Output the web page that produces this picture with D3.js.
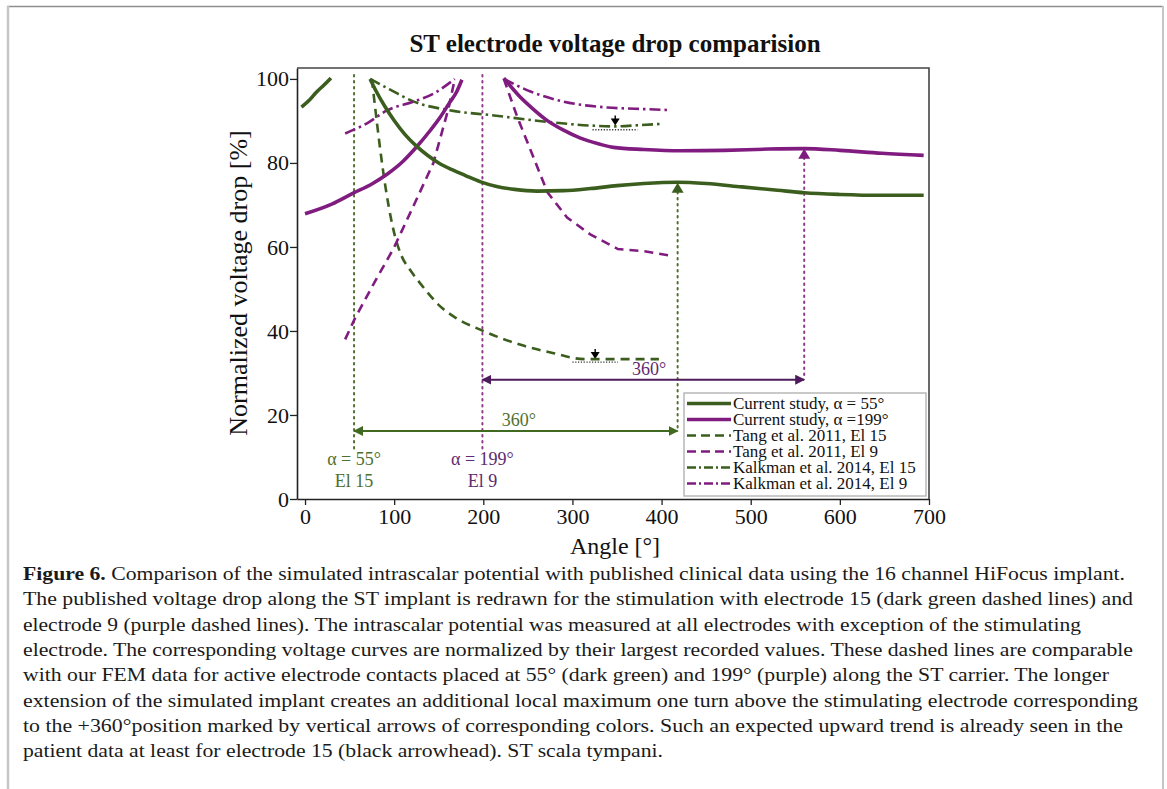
<!DOCTYPE html>
<html>
<head>
<meta charset="utf-8">
<script src="https://cdn.jsdelivr.net/npm/d3@7"></script>
<style>
  body { margin: 0; background: #fff; }
  svg { display: block; font-family: "Liberation Serif", "Times New Roman", serif; }
</style>
</head>
<body>
<div id="chart"></div>
<script>
// ---- data: [angle in degrees, normalized drop in %] ----
var current55a = [[-4, 93.3], [5, 95.0], [13, 96.9], [21, 98.5], [29, 100.2]];
var current55b = [[73, 100], [80, 97.0], [90, 93.3], [100, 90.1], [112, 86.8], [125, 84.0], [137, 81.9],
  [150, 80.0], [165, 78.4], [180, 77.0], [197, 75.5], [215, 74.4], [235, 73.7], [260, 73.3], [290, 73.4],
  [320, 73.9], [350, 74.6], [380, 75.1], [418, 75.4], [450, 75.1], [490, 74.3], [530, 73.5], [560, 72.9],
  [600, 72.5], [647, 72.3], [694, 72.3]];
var current199a = [[0, 67.9], [30, 70.2], [54, 72.8], [75, 75.0], [92, 77.3], [110, 80.4], [125.5, 83.9],
  [140, 87.6], [152, 91], [162, 94.3], [170, 96.9], [176, 99.8]];
var current199b = [[223, 100.2], [240, 96], [255, 93], [271, 90.2], [290, 87.8], [309, 85.9], [330, 84.5],
  [346, 83.7], [380, 83.2], [421, 82.9], [470, 83.0], [520, 83.3], [560, 83.4], [600, 83.0], [647, 82.3], [694, 81.8]];
var tang15 = [[75, 100], [81, 89], [87, 79], [94, 69.5], [101, 62.5], [108, 58], [118, 54.5], [129, 51.4],
  [152, 45.8], [167, 43.4], [200, 40], [242, 36.7], [279, 34.7], [313, 33.3], [350, 33.3], [397, 33.3]];
var tang9a = [[45, 38], [56, 43], [79, 52], [99, 59.5], [120, 69], [144, 80], [161, 93], [168, 100]];
var tang9b = [[223, 100], [238, 91], [255, 82], [272, 73], [294, 67], [320, 63], [351, 59.5], [380, 59], [408, 58]];
var kalk15 = [[73, 100], [95, 97.5], [122, 94.6], [160, 92.6], [212, 91.3], [271, 89.8], [320, 88.9],
  [348, 88.7], [375, 89.0], [401, 89.3]];
var kalk9a = [[45, 87], [70, 89.5], [92, 92.5], [122, 94.6], [144, 96.5], [168, 100]];
var kalk9b = [[223, 100], [253, 97], [290, 94.6], [339, 93.2], [370, 92.9], [408, 92.6]];

var xTicks = [0, 100, 200, 300, 400, 500, 600, 700];
var yTicks = [0, 20, 40, 60, 80, 100];

var legendLabels = ["Current study, \u03b1 = 55\u00b0", "Current study, \u03b1 =199\u00b0", "Tang et al. 2011, El 15",
  "Tang et al. 2011, El 9", "Kalkman et al. 2014, El 15", "Kalkman et al. 2014, El 9"];

var captionLines = [
  " Comparison of the simulated intrascalar potential with published clinical data using the 16 channel HiFocus implant.",
  "The published voltage drop along the ST implant is redrawn for the stimulation with electrode 15 (dark green dashed lines) and",
  "electrode 9 (purple dashed lines). The intrascalar potential was measured at all electrodes with exception of the stimulating",
  "electrode. The corresponding voltage curves are normalized by their largest recorded values. These dashed lines are comparable",
  "with our FEM data for active electrode contacts placed at 55\u00b0 (dark green) and 199\u00b0 (purple) along the ST carrier. The longer",
  "extension of the simulated implant creates an additional local maximum one turn above the stimulating electrode corresponding",
  "to the +360\u00b0position marked by vertical arrows of corresponding colors. Such an expected upward trend is already seen in the",
  "patient data at least for electrode 15 (black arrowhead). ST scala tympani."
];
var captionWidths = [1102, 1110, 1058, 1110, 1086, 1115, 1100, 640];

var green = "#3b5e1e", purple = "#801c80";
var greenText = "#4f6f2d", purpleText = "#5e2a70";

// ---- layout ----
var margin = {top: 68, left: 297};
var width = 632, height = 431;

var svg = d3.select("#chart").append("svg")
  .attr("width", 1167).attr("height", 789);

// page frame
svg.append("line").attr("x1", 7).attr("x2", 1163).attr("y1", 6.5).attr("y2", 6.5)
  .attr("stroke", "#8e8e8e").attr("stroke-width", 1.5);
svg.append("line").attr("x1", 8).attr("x2", 8).attr("y1", 6).attr("y2", 789)
  .attr("stroke", "#c6c6c6").attr("stroke-width", 2.5);
svg.append("line").attr("x1", 1163).attr("x2", 1163).attr("y1", 6).attr("y2", 789)
  .attr("stroke", "#c6c6c6").attr("stroke-width", 2);

var defs = svg.append("defs");
function marker(id, color) {
  defs.append("marker").attr("id", id)
    .attr("viewBox", "0 0 10 10").attr("refX", 9).attr("refY", 5)
    .attr("markerWidth", 5).attr("markerHeight", 5)
    .attr("markerUnits", "strokeWidth")
    .attr("orient", "auto-start-reverse")
    .append("path").attr("d", "M0,0 L10,5 L0,10 z").attr("fill", color);
}
marker("arrG", "#3f6a1f");
marker("arrP", "#4e1b5c");

var g = svg.append("g").attr("transform", "translate(" + margin.left + "," + margin.top + ")");

var x = d3.scaleLinear().domain([-9, 700]).range([0, width]);
var y = d3.scaleLinear().domain([0, 102.6]).range([height, 0]);

// axes
var xAxis = g.append("g").attr("transform", "translate(0," + height + ")")
  .call(d3.axisBottom(x).tickValues(xTicks).tickSize(6).tickPadding(3).tickSizeOuter(0));
var yAxis = g.append("g")
  .call(d3.axisLeft(y).tickValues(yTicks).tickSize(7).tickPadding(1).tickSizeOuter(0));
[xAxis, yAxis].forEach(function (a) {
  a.attr("font-family", "Liberation Serif");
  a.selectAll("text").style("font-size", "22px").attr("fill", "#111");
  a.selectAll("line").attr("stroke", "#222").attr("stroke-width", 1.3);
  a.select(".domain").attr("stroke", "#222").attr("stroke-width", 1.6);
});
// top and right of the frame
g.append("path").attr("d", "M0,0 H" + width + " V" + height)
  .attr("fill", "none").attr("stroke", "#444").attr("stroke-width", 1.6);

// axis titles and chart title
svg.append("text").attr("x", 615).attr("y", 554).attr("text-anchor", "middle")
  .style("font-size", "24px").attr("fill", "#111").text("Angle [\u00b0]");
svg.append("text").attr("transform", "translate(247,283) rotate(-90)").attr("text-anchor", "middle")
  .style("font-size", "26px").attr("fill", "#111").text("Normalized voltage drop [%]");
svg.append("text").attr("x", 615).attr("y", 52).attr("text-anchor", "middle")
  .style("font-size", "25px").style("font-weight", "bold").attr("fill", "#111")
  .text("ST electrode voltage drop comparision");

// guides: vertical dotted lines
function vline(v, y0, y1, color) {
  g.append("line").attr("x1", x(v)).attr("x2", x(v)).attr("y1", y(y0)).attr("y2", y(y1))
    .attr("stroke", color).attr("stroke-width", 2).attr("stroke-dasharray", "1.6 4.4")
    .attr("stroke-linecap", "round");
}
vline(55, 12, 101, "#51702f");
vline(199, 12, 101, "#8d3a8d");
vline(418, 17, 73.5, "#51702f");
vline(560, 29.5, 81.5, "#8d3a8d");

// vertical arrowheads at +360 deg
function tri(v, val, color) {
  var px = x(v), py = y(val);
  g.append("path").attr("d", "M" + px + "," + py + " L" + (px - 6) + "," + (py + 10) + " L" + (px + 6) + "," + (py + 10) + " Z")
    .attr("fill", color);
}
tri(418, 75.3, "#3b5e1e");
tri(560, 83.4, "#7e1c7e");

// horizontal 360 deg arrows
g.append("line").attr("x1", x(55)).attr("x2", x(418)).attr("y1", y(16.2)).attr("y2", y(16.2))
  .attr("stroke", "#3f6a1f").attr("stroke-width", 2)
  .attr("marker-start", "url(#arrG)").attr("marker-end", "url(#arrG)");
g.append("line").attr("x1", x(199)).attr("x2", x(560)).attr("y1", y(28.4)).attr("y2", y(28.4))
  .attr("stroke", "#4e1b5c").attr("stroke-width", 2)
  .attr("marker-start", "url(#arrP)").attr("marker-end", "url(#arrP)");
g.append("text").attr("x", x(240)).attr("y", y(17.3)).attr("text-anchor", "middle")
  .style("font-size", "18px").attr("fill", greenText).text("360\u00b0");
g.append("text").attr("x", x(386)).attr("y", y(29.4)).attr("text-anchor", "middle")
  .style("font-size", "18px").attr("fill", purpleText).text("360\u00b0");

// electrode labels
[[55, "\u03b1 = 55\u00b0", "El 15", greenText], [199, "\u03b1 = 199\u00b0", "El 9", purpleText]].forEach(function (d) {
  g.append("text").attr("x", x(d[0])).attr("y", 465 - margin.top).attr("text-anchor", "middle")
    .style("font-size", "18px").attr("fill", d[3]).text(d[1]);
  g.append("text").attr("x", x(d[0])).attr("y", 487 - margin.top).attr("text-anchor", "middle")
    .style("font-size", "18px").attr("fill", d[3]).text(d[2]);
});

// black arrowheads and dotted reference lines
function blackMark(v, val, x0, x1, ref) {
  g.append("line").attr("x1", x(x0)).attr("x2", x(x1)).attr("y1", y(ref)).attr("y2", y(ref))
    .attr("stroke", "#333").attr("stroke-width", 1.3).attr("stroke-dasharray", "1.2 1.6");
  var px = x(v), py = y(val);
  g.append("line").attr("x1", px).attr("x2", px).attr("y1", py - 8).attr("y2", py - 3)
    .attr("stroke", "#000").attr("stroke-width", 1.4);
  g.append("path").attr("d", "M" + (px - 4.5) + "," + (py - 5) + " L" + (px + 4.5) + "," + (py - 5) + " L" + px + "," + (py + 2) + " Z")
    .attr("fill", "#000");
}
blackMark(325.5, 33.8, 300, 351, 32.6);
blackMark(348, 89.4, 322.5, 373, 87.9);

// ---- data lines ----
var smooth = d3.line().x(function (d) { return x(d[0]); }).y(function (d) { return y(d[1]); })
  .curve(d3.curveMonotoneX);
var straight = d3.line().x(function (d) { return x(d[0]); }).y(function (d) { return y(d[1]); });

var dashed = "9 6", dashDot = "11 4 2.5 4";
var series = [
  {data: tang15, color: green, w: 2.6, dash: dashed, line: smooth},
  {data: tang9a, color: purple, w: 2.6, dash: dashed, line: straight},
  {data: tang9b, color: purple, w: 2.6, dash: dashed, line: straight},
  {data: kalk15, color: green, w: 2.6, dash: dashDot, line: smooth},
  {data: kalk9a, color: purple, w: 2.6, dash: dashDot, line: smooth},
  {data: kalk9b, color: purple, w: 2.6, dash: dashDot, line: smooth},
  {data: current199a, color: purple, w: 3.6, dash: null, line: smooth},
  {data: current199b, color: purple, w: 3.6, dash: null, line: smooth},
  {data: current55a, color: green, w: 3.6, dash: null, line: smooth},
  {data: current55b, color: green, w: 3.6, dash: null, line: smooth}
];
series.forEach(function (s) {
  g.append("path").datum(s.data).attr("d", s.line)
    .attr("fill", "none").attr("stroke", s.color).attr("stroke-width", s.w)
    .attr("stroke-dasharray", s.dash).attr("stroke-linecap", "butt");
});

// ---- legend ----
var legendStyles = [
  {color: green, dash: null, w: 3.4}, {color: purple, dash: null, w: 3.4},
  {color: green, dash: "9 5", w: 2.6}, {color: purple, dash: "9 5", w: 2.6},
  {color: green, dash: "9 3 2 3", w: 2.6}, {color: purple, dash: "9 3 2 3", w: 2.6}
];
var lg = svg.append("g");
lg.append("rect").attr("x", 684).attr("y", 393).attr("width", 242).attr("height", 103)
  .attr("fill", "#fff").attr("stroke", "#b8b8b8").attr("stroke-width", 1.5);
legendLabels.forEach(function (t, i) {
  var yy = 403.5 + i * 16;
  lg.append("line").attr("x1", 687).attr("x2", 731).attr("y1", yy).attr("y2", yy)
    .attr("stroke", legendStyles[i].color).attr("stroke-width", legendStyles[i].w)
    .attr("stroke-dasharray", legendStyles[i].dash);
  lg.append("text").attr("x", 733).attr("y", yy + 5.5).style("font-size", "17px")
    .attr("fill", "#111").text(t);
});

// ---- caption ----
var cap = svg.append("g");
captionLines.forEach(function (t, i) {
  var tx = cap.append("text").attr("x", 23).attr("y", 580 + i * 25.3)
    .style("font-size", "19.5px").attr("fill", "#1a1a1a")
    .attr("textLength", captionWidths[i]).attr("lengthAdjust", "spacingAndGlyphs");
  if (i === 0) tx.append("tspan").style("font-weight", "bold").text("Figure 6.");
  tx.append("tspan").text(t);
});
</script>
</body>
</html>
